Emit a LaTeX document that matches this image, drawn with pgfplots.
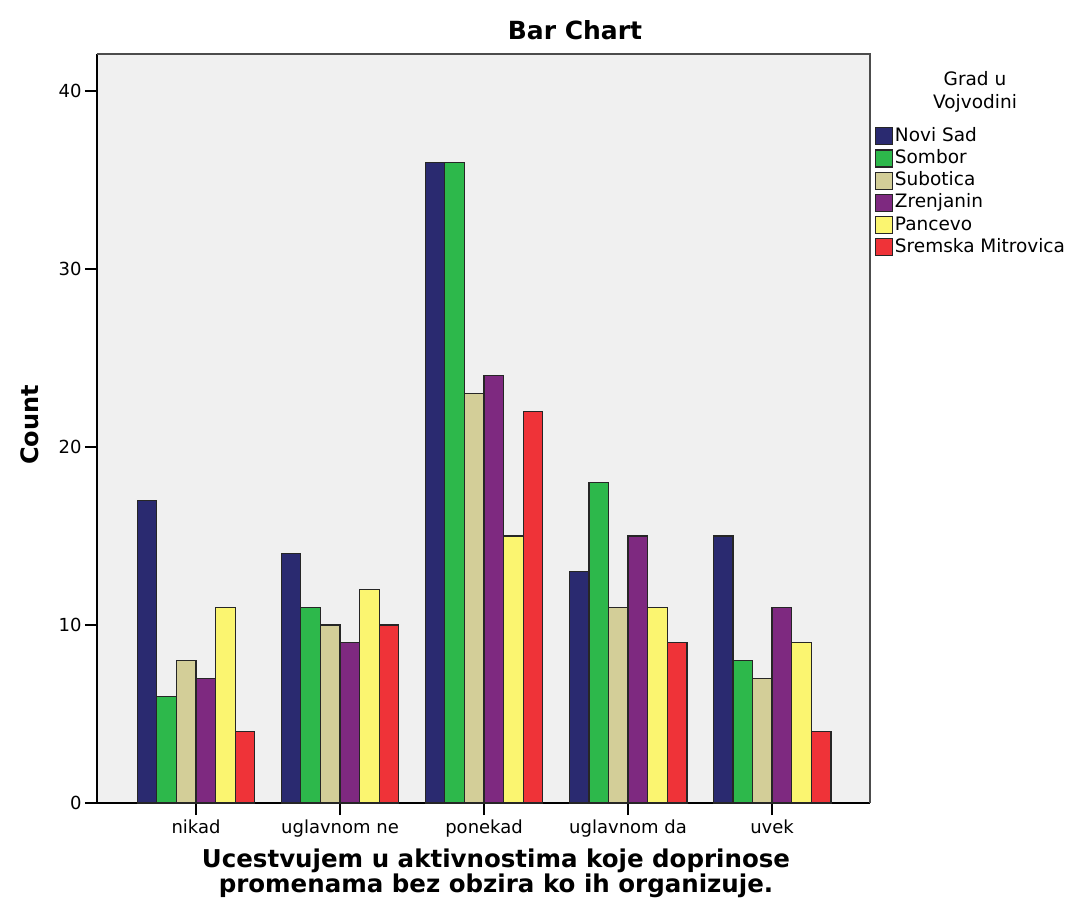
\documentclass[border=0pt]{standalone}
\usepackage{pgfplots}
\pgfplotsset{compat=1.18}
\usepackage{fontspec}
\setmainfont{DejaVu Sans}
\definecolor{cA}{HTML}{2A2A70}
\definecolor{cB}{HTML}{2DB84B}
\definecolor{cC}{HTML}{D3CE98}
\definecolor{cD}{HTML}{7E2980}
\definecolor{cE}{HTML}{FBF570}
\definecolor{cF}{HTML}{EF3338}
\definecolor{bgg}{HTML}{F0F0F0}
\pgfplotsset{legimg/.style={/pgfplots/legend image code/.code={\draw[##1,line width=1.2pt] (0pt,-8.5pt) rectangle (17pt,8.5pt);}}}
\begin{document}
\begin{tikzpicture}
\useasboundingbox (-97pt,-109pt) rectangle (978pt,803pt);
\begin{axis}[
  at={(0pt,0pt)}, anchor=south west,
  scale only axis, width=773pt, height=749pt,
  xmin=-0.6875, xmax=4.68, ymin=0, ymax=42.08,
  ybar=0pt, bar width=19.6pt,
  axis background/.style={fill=bgg},
  axis x line*=bottom, axis y line*=left,
  axis line style={-, line width=1.3pt, black},
  xtick={0,1,2,3,4},
  xticklabels={nikad,uglavnom ne,ponekad,uglavnom da,uvek},
  ytick={0,10,20,30,40},
  tick align=outside,
  major tick length=12pt,
  tick style={line width=1.2pt, black},
  x tick label style={font=\fontsize{18}{21}\selectfont, yshift=-1pt},
  y tick label style={font=\fontsize{18}{21}\selectfont},
  /pgf/number format/assume math mode=true,
  legend style={at={(axis description cs:1,1)}, anchor=north west, xshift=5pt, yshift=-73pt,
     draw=none, fill=none, inner sep=0pt, row sep=4pt,
     font=\fontsize{18.5}{21}\selectfont,
     nodes={inner xsep=1.5pt, inner ysep=0pt, text height=14pt, text depth=4pt}},
  legend cell align=left,
  clip=false,
]
\addplot[fill=cA, draw=black!85, line width=1.3pt, legimg] coordinates {(0,17) (1,14) (2,36) (3,13) (4,15)};
\addplot[fill=cB, draw=black!85, line width=1.3pt, legimg] coordinates {(0,6) (1,11) (2,36) (3,18) (4,8)};
\addplot[fill=cC, draw=black!85, line width=1.3pt, legimg] coordinates {(0,8) (1,10) (2,23) (3,11) (4,7)};
\addplot[fill=cD, draw=black!85, line width=1.3pt, legimg] coordinates {(0,7) (1,9) (2,24) (3,15) (4,11)};
\addplot[fill=cE, draw=black!85, line width=1.3pt, legimg] coordinates {(0,11) (1,12) (2,15) (3,11) (4,9)};
\addplot[fill=cF, draw=black!85, line width=1.3pt, legimg] coordinates {(0,4) (1,10) (2,22) (3,9) (4,4)};
\legend{Novi Sad,Sombor,Subotica,Zrenjanin,Pancevo,Sremska Mitrovica}
\draw[black!70, line width=1.5pt] (rel axis cs:0,1) -- (rel axis cs:1,1) -- (rel axis cs:1,0);
\end{axis}
\node[font=\fontsize{25}{28}\selectfont\bfseries] at (478pt,773pt) {Bar Chart};
\node[font=\fontsize{18.5}{23}\selectfont, align=center] at (878pt,711pt) {Grad u\\Vojvodini};
\node[font=\fontsize{24}{28}\selectfont\bfseries, rotate=90] at (-67pt,378pt) {Count};
\node[font=\fontsize{24.5}{23}\selectfont\bfseries, align=center] at (399pt,-70.5pt) {Ucestvujem u aktivnostima koje doprinose\\promenama bez obzira ko ih organizuje.};
\end{tikzpicture}
\end{document}
